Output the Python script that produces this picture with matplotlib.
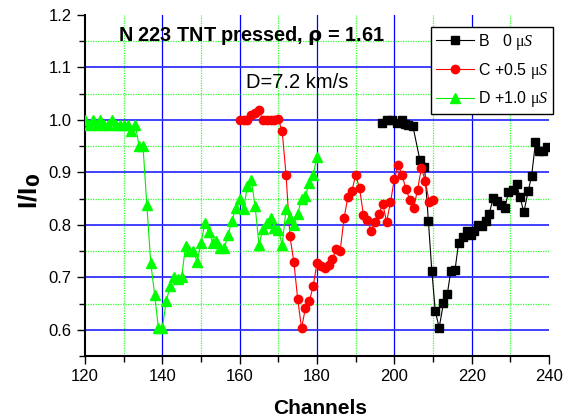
import matplotlib
matplotlib.use("Agg")
import matplotlib.pyplot as plt
import matplotlib.ticker as ticker
import numpy as np

plt.rcParams['font.family'] = ['Liberation Sans', 'DejaVu Sans']
plt.rcParams['mathtext.fontset'] = 'custom'
plt.rcParams['mathtext.rm'] = 'Liberation Serif'
plt.rcParams['mathtext.it'] = 'Liberation Serif:italic'

# series B (0 us)
b_ch = [196.7, 198, 199.3, 200.6, 201.9, 202.8, 203.6, 204.8, 206.6, 207.8,
        208.8, 209.7, 210.6, 211.6, 212.7, 213.7, 214.6, 215.7, 216.6, 217.7,
        218.7, 219.7, 220.6, 221.6, 222.6, 223.6, 224.5, 225.6, 226.6, 227.7,
        228.6, 229.5, 230.6, 231.6, 232.5, 233.5, 234.6, 235.5, 236.5, 237.5,
        238.5, 239.5]
b_val = [0.995, 1.0, 1.0, 0.995, 1.0, 0.992, 0.99, 0.988, 0.924, 0.911,
         0.808, 0.712, 0.635, 0.604, 0.651, 0.668, 0.712, 0.714, 0.765, 0.777,
         0.788, 0.780, 0.789, 0.800, 0.797, 0.808, 0.821, 0.851, 0.845, 0.838,
         0.832, 0.862, 0.867, 0.878, 0.853, 0.824, 0.864, 0.893, 0.957, 0.940,
         0.940, 0.948]

# series C (+0.5 us)
c_ch = list(range(160, 211))
c_val = [1.0, 1.0, 1.0, 1.01, 1.013, 1.019, 1.0, 1.0, 1.0, 1.0,
         1.002, 0.978, 0.895, 0.778, 0.730, 0.659, 0.603, 0.641, 0.654, 0.683,
         0.727, 0.722, 0.717, 0.724, 0.735, 0.754, 0.751, 0.813, 0.854, 0.864,
         0.895, 0.870, 0.819, 0.810, 0.789, 0.806, 0.820, 0.840, 0.806, 0.843,
         0.887, 0.914, 0.895, 0.868, 0.848, 0.832, 0.867, 0.908, 0.884, 0.844,
         0.848]

# series D (+1.0 us)
d_ch = list(range(120, 181))
d_val = [1.0, 0.99, 1.0, 0.99, 1.0, 0.99, 0.99, 1.0, 0.99, 0.99,
         0.99, 0.99, 0.978, 0.99, 0.95, 0.95, 0.837, 0.728, 0.667, 0.603,
         0.603, 0.654, 0.683, 0.700, 0.697, 0.700, 0.760, 0.750, 0.750, 0.730,
         0.765, 0.803, 0.787, 0.766, 0.770, 0.755, 0.755, 0.780, 0.808, 0.832,
         0.850, 0.830, 0.874, 0.886, 0.835, 0.762, 0.792, 0.803, 0.813, 0.794,
         0.790, 0.762, 0.830, 0.813, 0.800, 0.820, 0.850, 0.855, 0.880, 0.895,
         0.930]

fig = plt.figure(figsize=(5.74, 4.2), dpi=100)
ax = fig.add_axes([85/574, 1-356/420, 464/574, 341/420])

# grid lines (blue major, green dotted minor)
for x in np.arange(140, 240, 20):
    ax.axvline(x, color='#0000ff', lw=0.9, zorder=1)
for x in np.arange(130, 240, 20):
    ax.axvline(x, color='#33ff33', lw=0.9, ls=(0, (1, 1)), zorder=1)
for y in np.arange(0.6, 1.15, 0.1):
    ax.axhline(y, color='#3333ff', lw=1.3, zorder=1)
for y in np.arange(0.65, 1.2, 0.1):
    ax.axhline(y, color='#33ff33', lw=0.9, ls=(0, (1, 1)), zorder=1)

ax.plot(b_ch, b_val, color='black', lw=0.8, marker='s', ms=5.5, mec='black',
        label=r'B   0 $\mathrm{\mu}S$', zorder=3)
ax.plot(c_ch, c_val, color='red', lw=0.8, marker='o', ms=6, mec='red',
        label=r'C +0.5 $\mathrm{\mu}S$', zorder=3)
ax.plot(d_ch, d_val, color='#00ee00', lw=0.8, marker='^', ms=6.5,
        mfc='#00ff00', mec='#00ff00', label=r'D +1.0 $\mathrm{\mu}S$', zorder=3)

ax.set_xlim(120, 240)
ax.set_ylim(0.55, 1.2)
ax.xaxis.set_major_locator(ticker.MultipleLocator(20))
ax.xaxis.set_minor_locator(ticker.MultipleLocator(10))
ax.yaxis.set_major_locator(ticker.MultipleLocator(0.1))
ax.yaxis.set_minor_locator(ticker.MultipleLocator(0.05))
ax.yaxis.set_major_formatter(ticker.FormatStrFormatter('%.1f'))
ax.tick_params(which='major', direction='out', length=6, width=1, labelsize=12)
ax.tick_params(which='minor', direction='out', length=4, width=1)
ax.spines['top'].set_visible(False)
ax.spines['right'].set_visible(False)
ax.spines['left'].set_linewidth(1.5)
ax.spines['bottom'].set_linewidth(1.5)

fig.text(320/574, 1-408/420, 'Channels', fontsize=15, fontweight='bold',
         ha='center', va='center')
fig.text(30/574, 1-191/420, r'I/I$_\mathbf{0}$', fontsize=19, fontweight='bold',
         rotation=90, ha='center', va='center')

fig.text(118/574, 1-41/420, r'N 223 TNT pressed, $\mathbf{\rho}$ = 1.61',
         fontsize=14.3, fontweight='bold')
fig.text(246/574, 1-88/420, 'D=7.2 km/s', fontsize=14.5)

leg = ax.legend(loc='upper right', bbox_to_anchor=(553/574, 1-27/420),
                bbox_transform=fig.transFigure, fontsize=11.5, frameon=True,
                fancybox=False, framealpha=1, edgecolor='black',
                handlelength=2.4, borderpad=0.3, labelspacing=0.55,
                handletextpad=0.25, borderaxespad=0)
leg.get_frame().set_linewidth(1.0)

fig.savefig('out.png', dpi=100)
